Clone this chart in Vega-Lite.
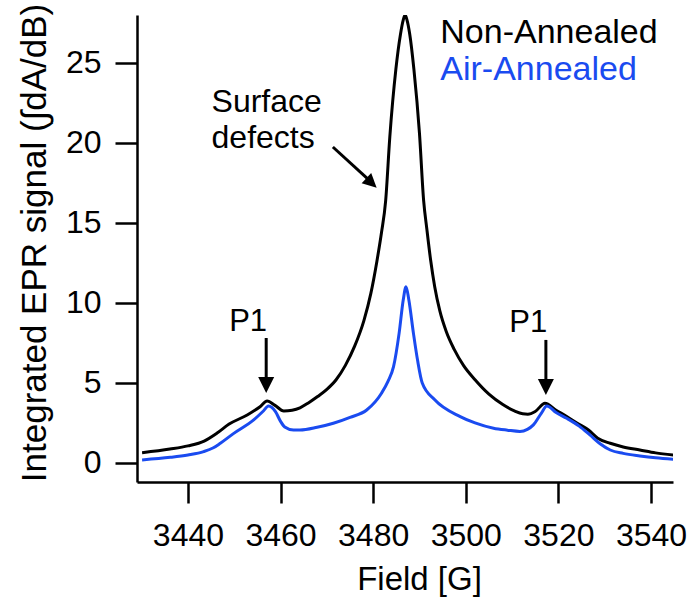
{
  "$schema": "https://vega.github.io/schema/vega-lite/v6.json",
  "width": 536,
  "height": 467,
  "autosize": "none",
  "padding": {"left": 137, "top": 15, "right": 18, "bottom": 119},
  "config": {
    "font": "Liberation Sans",
    "view": {"stroke": null},
    "axis": {
      "grid": false,
      "domainColor": "black",
      "domainWidth": 2.5,
      "tickColor": "black",
      "tickWidth": 2.5,
      "labelColor": "black",
      "labelFont": "Liberation Sans",
      "titleFont": "Liberation Sans",
      "titleColor": "black",
      "titleFontWeight": "normal"
    }
  },
  "datasets": {
    "curves": [
      {"s": "Non-Annealed", "x": 3430.1, "y": 0.64},
      {"s": "Non-Annealed", "x": 3436.1, "y": 0.87},
      {"s": "Non-Annealed", "x": 3440.0, "y": 1.07},
      {"s": "Non-Annealed", "x": 3443.5, "y": 1.37},
      {"s": "Non-Annealed", "x": 3446.3, "y": 1.87},
      {"s": "Non-Annealed", "x": 3448.9, "y": 2.43},
      {"s": "Non-Annealed", "x": 3452.8, "y": 3.0},
      {"s": "Non-Annealed", "x": 3455.5, "y": 3.5},
      {"s": "Non-Annealed", "x": 3457.1, "y": 3.87},
      {"s": "Non-Annealed", "x": 3458.8, "y": 3.6},
      {"s": "Non-Annealed", "x": 3460.7, "y": 3.25},
      {"s": "Non-Annealed", "x": 3462.5, "y": 3.3},
      {"s": "Non-Annealed", "x": 3464.2, "y": 3.45},
      {"s": "Non-Annealed", "x": 3466.0, "y": 3.75},
      {"s": "Non-Annealed", "x": 3468.0, "y": 4.15},
      {"s": "Non-Annealed", "x": 3470.0, "y": 4.6},
      {"s": "Non-Annealed", "x": 3472.0, "y": 5.2},
      {"s": "Non-Annealed", "x": 3474.0, "y": 6.1},
      {"s": "Non-Annealed", "x": 3476.0, "y": 7.3},
      {"s": "Non-Annealed", "x": 3478.0, "y": 8.9},
      {"s": "Non-Annealed", "x": 3479.5, "y": 10.6},
      {"s": "Non-Annealed", "x": 3480.8, "y": 12.6},
      {"s": "Non-Annealed", "x": 3481.8, "y": 14.4},
      {"s": "Non-Annealed", "x": 3482.7, "y": 16.4},
      {"s": "Non-Annealed", "x": 3483.6, "y": 20.4},
      {"s": "Non-Annealed", "x": 3484.9, "y": 24.6},
      {"s": "Non-Annealed", "x": 3485.9, "y": 26.8},
      {"s": "Non-Annealed", "x": 3486.5, "y": 27.7},
      {"s": "Non-Annealed", "x": 3486.9, "y": 28.0},
      {"s": "Non-Annealed", "x": 3487.3, "y": 27.7},
      {"s": "Non-Annealed", "x": 3487.9, "y": 26.8},
      {"s": "Non-Annealed", "x": 3488.8, "y": 24.6},
      {"s": "Non-Annealed", "x": 3490.0, "y": 20.6},
      {"s": "Non-Annealed", "x": 3490.9, "y": 16.4},
      {"s": "Non-Annealed", "x": 3491.6, "y": 14.6},
      {"s": "Non-Annealed", "x": 3492.4, "y": 12.7},
      {"s": "Non-Annealed", "x": 3493.3, "y": 11.0},
      {"s": "Non-Annealed", "x": 3494.4, "y": 9.5},
      {"s": "Non-Annealed", "x": 3495.8, "y": 8.2},
      {"s": "Non-Annealed", "x": 3497.5, "y": 7.1},
      {"s": "Non-Annealed", "x": 3499.5, "y": 6.1},
      {"s": "Non-Annealed", "x": 3502.0, "y": 5.2},
      {"s": "Non-Annealed", "x": 3505.0, "y": 4.3},
      {"s": "Non-Annealed", "x": 3508.0, "y": 3.65},
      {"s": "Non-Annealed", "x": 3510.5, "y": 3.25},
      {"s": "Non-Annealed", "x": 3512.3, "y": 3.07},
      {"s": "Non-Annealed", "x": 3513.4, "y": 3.05},
      {"s": "Non-Annealed", "x": 3515.0, "y": 3.22},
      {"s": "Non-Annealed", "x": 3517.1, "y": 3.73},
      {"s": "Non-Annealed", "x": 3519.5, "y": 3.3},
      {"s": "Non-Annealed", "x": 3521.8, "y": 2.9},
      {"s": "Non-Annealed", "x": 3524.0, "y": 2.5},
      {"s": "Non-Annealed", "x": 3526.5, "y": 2.06},
      {"s": "Non-Annealed", "x": 3528.5, "y": 1.55},
      {"s": "Non-Annealed", "x": 3531.2, "y": 1.23},
      {"s": "Non-Annealed", "x": 3534.0, "y": 1.0},
      {"s": "Non-Annealed", "x": 3537.6, "y": 0.81},
      {"s": "Non-Annealed", "x": 3541.0, "y": 0.63},
      {"s": "Non-Annealed", "x": 3544.8, "y": 0.5},
      {"s": "Air-Annealed", "x": 3430.1, "y": 0.19},
      {"s": "Air-Annealed", "x": 3436.2, "y": 0.35},
      {"s": "Air-Annealed", "x": 3440.0, "y": 0.5},
      {"s": "Air-Annealed", "x": 3443.4, "y": 0.71},
      {"s": "Air-Annealed", "x": 3445.5, "y": 0.95},
      {"s": "Air-Annealed", "x": 3447.0, "y": 1.23},
      {"s": "Air-Annealed", "x": 3449.9, "y": 1.85},
      {"s": "Air-Annealed", "x": 3454.2, "y": 2.69},
      {"s": "Air-Annealed", "x": 3456.3, "y": 3.25},
      {"s": "Air-Annealed", "x": 3457.4, "y": 3.56},
      {"s": "Air-Annealed", "x": 3458.9, "y": 3.21},
      {"s": "Air-Annealed", "x": 3460.0, "y": 2.6},
      {"s": "Air-Annealed", "x": 3460.9, "y": 2.25},
      {"s": "Air-Annealed", "x": 3462.8, "y": 2.06},
      {"s": "Air-Annealed", "x": 3464.2, "y": 2.06},
      {"s": "Air-Annealed", "x": 3467.9, "y": 2.23},
      {"s": "Air-Annealed", "x": 3471.4, "y": 2.48},
      {"s": "Air-Annealed", "x": 3475.0, "y": 2.85},
      {"s": "Air-Annealed", "x": 3478.6, "y": 3.31},
      {"s": "Air-Annealed", "x": 3481.8, "y": 4.36},
      {"s": "Air-Annealed", "x": 3483.2, "y": 5.1},
      {"s": "Air-Annealed", "x": 3484.4, "y": 6.02},
      {"s": "Air-Annealed", "x": 3485.6, "y": 8.1},
      {"s": "Air-Annealed", "x": 3486.5, "y": 10.2},
      {"s": "Air-Annealed", "x": 3487.1, "y": 11.02},
      {"s": "Air-Annealed", "x": 3487.7, "y": 10.2},
      {"s": "Air-Annealed", "x": 3488.7, "y": 8.1},
      {"s": "Air-Annealed", "x": 3489.6, "y": 6.4},
      {"s": "Air-Annealed", "x": 3490.6, "y": 5.0},
      {"s": "Air-Annealed", "x": 3493.3, "y": 3.95},
      {"s": "Air-Annealed", "x": 3498.8, "y": 2.9},
      {"s": "Air-Annealed", "x": 3502.0, "y": 2.5},
      {"s": "Air-Annealed", "x": 3506.0, "y": 2.17},
      {"s": "Air-Annealed", "x": 3509.0, "y": 2.05},
      {"s": "Air-Annealed", "x": 3511.7, "y": 1.97},
      {"s": "Air-Annealed", "x": 3513.3, "y": 2.1},
      {"s": "Air-Annealed", "x": 3514.6, "y": 2.38},
      {"s": "Air-Annealed", "x": 3516.3, "y": 3.1},
      {"s": "Air-Annealed", "x": 3517.5, "y": 3.56},
      {"s": "Air-Annealed", "x": 3519.5, "y": 3.15},
      {"s": "Air-Annealed", "x": 3521.8, "y": 2.79},
      {"s": "Air-Annealed", "x": 3524.5, "y": 2.3},
      {"s": "Air-Annealed", "x": 3526.8, "y": 1.75},
      {"s": "Air-Annealed", "x": 3529.0, "y": 1.2},
      {"s": "Air-Annealed", "x": 3531.2, "y": 0.81},
      {"s": "Air-Annealed", "x": 3534.0, "y": 0.6},
      {"s": "Air-Annealed", "x": 3537.6, "y": 0.44},
      {"s": "Air-Annealed", "x": 3541.0, "y": 0.32},
      {"s": "Air-Annealed", "x": 3544.8, "y": 0.23}
    ]
  },
  "layer": [
    {
      "data": {"name": "curves"},
      "mark": {"type": "line", "strokeWidth": 3, "interpolate": "monotone", "clip": true},
      "encoding": {
        "x": {
          "field": "x", "type": "quantitative",
          "scale": {"domain": [3429, 3544.75], "nice": false, "zero": false},
          "axis": {
            "title": "Field [G]",
            "format": "d",
            "values": [3440, 3460, 3480, 3500, 3520, 3540],
            "tickSize": 21,
            "labelFontSize": 32,
            "labelBaseline": "alphabetic",
            "labelPadding": 42,
            "labelFlush": false,
            "labelOverlap": false,
            "titleFontSize": 33,
            "titleBaseline": "alphabetic",
            "titleX": 282,
            "titleY": 107
          }
        },
        "y": {
          "field": "y", "type": "quantitative",
          "scale": {"domain": [-1.19, 28.0], "nice": false, "zero": false},
          "axis": {
            "title": "Integrated EPR signal (∫dA/dB)",
            "format": "d",
            "values": [0, 5, 10, 15, 20, 25],
            "tickSize": 22,
            "labelFontSize": 32,
            "labelPadding": 14,
            "labelOverlap": false,
            "titleFontSize": 35,
            "titleBaseline": "alphabetic",
            "titleX": -92,
            "titleY": 227.5
          }
        },
        "color": {
          "field": "s", "type": "nominal",
          "scale": {"domain": ["Non-Annealed", "Air-Annealed"], "range": ["#000000", "#1a4bf0"]},
          "legend": null
        },
        "detail": {"field": "s"}
      }
    },
    {
      "data": {"values": [
        {"s": "Non-Annealed", "x": 3494.5, "y": 26.23},
        {"s": "Air-Annealed", "x": 3494.5, "y": 23.94}
      ]},
      "mark": {"type": "text", "align": "left", "baseline": "alphabetic", "fontSize": 34, "font": "Liberation Sans"},
      "encoding": {
        "x": {"field": "x", "type": "quantitative"},
        "y": {"field": "y", "type": "quantitative"},
        "text": {"field": "s"},
        "color": {"field": "s", "type": "nominal", "legend": null}
      }
    },
    {
      "data": {"values": [
        {"t": "Surface", "x": 3445.1, "y": 21.94},
        {"t": "defects", "x": 3445.1, "y": 19.69}
      ]},
      "mark": {"type": "text", "align": "left", "baseline": "alphabetic", "fontSize": 32, "font": "Liberation Sans", "color": "black"},
      "encoding": {
        "x": {"field": "x", "type": "quantitative"},
        "y": {"field": "y", "type": "quantitative"},
        "text": {"field": "t"}
      }
    },
    {
      "data": {"values": [
        {"t": "P1", "x": 3453.0, "y": 8.25},
        {"t": "P1", "x": 3513.5, "y": 8.19}
      ]},
      "mark": {"type": "text", "align": "center", "baseline": "alphabetic", "fontSize": 31, "font": "Liberation Sans", "color": "black"},
      "encoding": {
        "x": {"field": "x", "type": "quantitative"},
        "y": {"field": "y", "type": "quantitative"},
        "text": {"field": "t"}
      }
    },
    {
      "data": {"values": [
        {"x": 3456.9, "y": 7.81, "x2": 3456.9, "y2": 5.0},
        {"x": 3517.3, "y": 7.69, "x2": 3517.3, "y2": 4.9},
        {"x": 3471.3, "y": 19.75, "x2": 3479.6, "y2": 17.55}
      ]},
      "mark": {"type": "rule", "strokeWidth": 3, "color": "black"},
      "encoding": {
        "x": {"field": "x", "type": "quantitative"},
        "y": {"field": "y", "type": "quantitative"},
        "x2": {"field": "x2"},
        "y2": {"field": "y2"}
      }
    },
    {
      "data": {"values": [
        {"x": 3456.9, "y": 4.875},
        {"x": 3517.3, "y": 4.75}
      ]},
      "mark": {"type": "point", "shape": "M-1,-1L1,-1L0,1Z", "size": 256, "filled": true, "color": "black", "opacity": 1, "strokeWidth": 0},
      "encoding": {
        "x": {"field": "x", "type": "quantitative"},
        "y": {"field": "y", "type": "quantitative"}
      }
    },
    {
      "data": {"values": [
        {"x": 3479.65, "y": 17.5}
      ]},
      "mark": {"type": "point", "shape": "M-1,-1L1,-1L0,1Z", "size": 196, "angle": 313, "filled": true, "color": "black", "opacity": 1, "strokeWidth": 0},
      "encoding": {
        "x": {"field": "x", "type": "quantitative"},
        "y": {"field": "y", "type": "quantitative"}
      }
    }
  ]
}
